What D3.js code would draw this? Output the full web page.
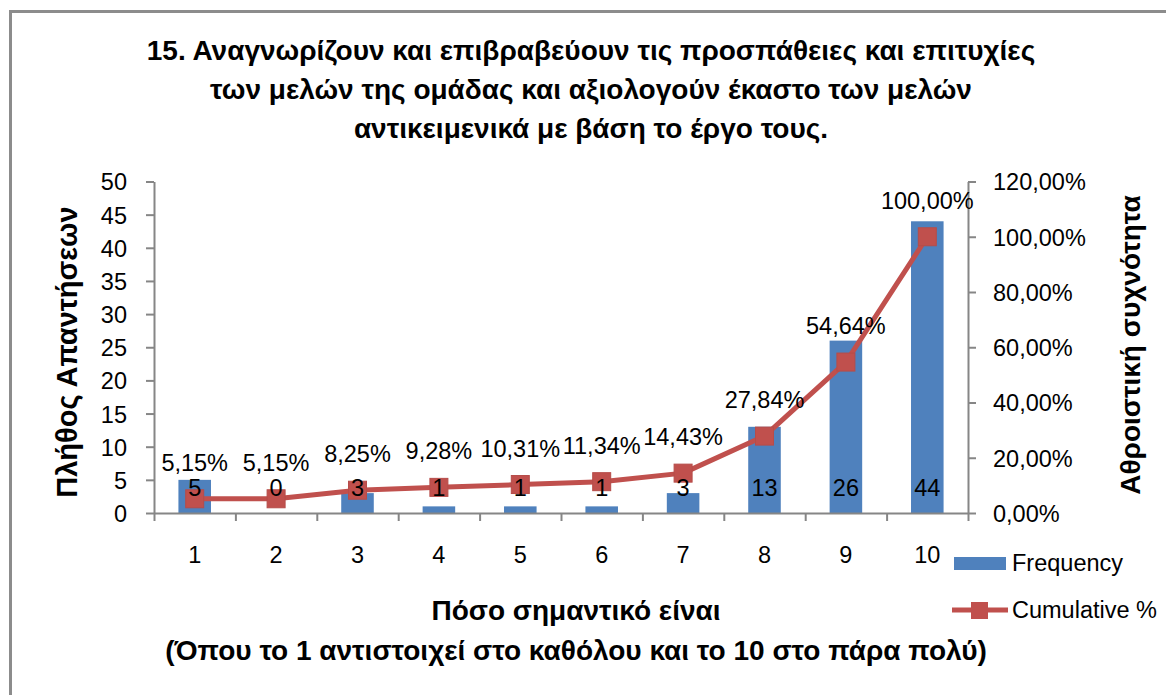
<!DOCTYPE html>
<html>
<head>
<meta charset="utf-8">
<script src="https://cdn.jsdelivr.net/npm/d3@7"></script>
<style>
  body { margin: 0; background: #fff; }
  text { font-family: "Liberation Sans", Arial, sans-serif; fill: #000; }
</style>
</head>
<body>
<svg id="chart"></svg>
<script>
// data
const categories = ['1', '2', '3', '4', '5', '6', '7', '8', '9', '10'];
const frequency = [5, 0, 3, 1, 1, 1, 3, 13, 26, 44];
const cumulative = [5.15, 5.15, 8.25, 9.28, 10.31, 11.34, 14.43, 27.84, 54.64, 100.00];
const leftTicks = [0, 5, 10, 15, 20, 25, 30, 35, 40, 45, 50];
const rightTicks = [0, 20, 40, 60, 80, 100, 120];
const titleLines = ['15. Αναγνωρίζουν και επιβραβεύουν τις προσπάθειες και επιτυχίες',
                    'των μελών της ομάδας και αξιολογούν έκαστο των μελών',
                    'αντικειμενικά με βάση το έργο τους.'];
const xTitleLines = ['Πόσο σημαντικό είναι', '(Όπου το 1 αντιστοιχεί στο καθόλου και το 10 στο πάρα πολύ)'];

const WIDTH = 1166, HEIGHT = 695;
const PLOT = { left: 154, right: 968, top: 181.5, bottom: 513 };
const BLUE = '#4F81BD', RED = '#C0504D', GRAY = '#868686';
const FS = '23.5px', TFS = '28px';

const fmt = v => v.toFixed(2).replace('.', ',') + '%';

const svg = d3.select('#chart')
    .attr('width', WIDTH)
    .attr('height', HEIGHT);

// outer frame (only top/left visible in the picture)
svg.append('rect')
    .attr('x', 10.5).attr('y', 11.5)
    .attr('width', WIDTH + 20).attr('height', HEIGHT + 20)
    .attr('fill', 'none')
    .attr('stroke', '#8C8C8C')
    .attr('stroke-width', 3);

const xScale = d3.scaleBand()
    .domain(categories)
    .range([PLOT.left, PLOT.right])
    .paddingInner(0.6)
    .paddingOuter(0.3);
const xEdge = d3.scaleLinear().domain([0, categories.length]).range([PLOT.left, PLOT.right]);
const yScale = d3.scaleLinear().domain([0, 50]).range([PLOT.bottom, PLOT.top]);
const yPct = d3.scaleLinear().domain([0, 120]).range([PLOT.bottom, PLOT.top]);
const xMid = c => xScale(c) + xScale.bandwidth() / 2;

// title
svg.append('g')
    .selectAll('text')
    .data(titleLines)
    .join('text')
    .attr('x', 591)
    .attr('y', (d, i) => 60 + i * 39)
    .attr('text-anchor', 'middle')
    .attr('font-size', TFS)
    .attr('font-weight', 'bold')
    .text(d => d);

// bars
svg.append('g')
    .selectAll('rect')
    .data(frequency)
    .join('rect')
    .attr('x', (d, i) => xScale(categories[i]))
    .attr('y', d => yScale(d))
    .attr('width', xScale.bandwidth())
    .attr('height', d => yScale(0) - yScale(d))
    .attr('fill', BLUE);

// axes
const styleAxis = g => {
    g.select('.domain').attr('stroke', GRAY).attr('stroke-width', 2);
    g.selectAll('.tick line').attr('stroke', GRAY).attr('stroke-width', 2);
    g.selectAll('.tick text').attr('font-size', FS).attr('font-family', '"Liberation Sans", Arial, sans-serif').attr('fill', '#000');
};

svg.append('g')
    .attr('transform', `translate(${PLOT.left},0)`)
    .call(d3.axisLeft(yScale).tickValues(leftTicks).tickSize(8).tickPadding(19).tickSizeOuter(0))
    .call(styleAxis)
    .call(g => g.selectAll('.tick text').attr('dy', '0.36em'));

svg.append('g')
    .attr('transform', `translate(${PLOT.right},0)`)
    .call(d3.axisRight(yPct).tickValues(rightTicks).tickSize(8).tickPadding(17).tickSizeOuter(0).tickFormat(fmt))
    .call(styleAxis)
    .call(g => g.selectAll('.tick text').attr('dy', '0.36em'));

// category boundaries ticks
svg.append('g')
    .attr('transform', `translate(0,${PLOT.bottom})`)
    .call(d3.axisBottom(xEdge).ticks(10).tickSize(8).tickFormat('').tickSizeOuter(0))
    .call(styleAxis);

// category labels
svg.append('g')
    .attr('transform', `translate(0,${PLOT.bottom})`)
    .call(d3.axisBottom(xScale).tickSize(0).tickPadding(33))
    .call(styleAxis)
    .call(g => g.select('.domain').remove());

// cumulative line
const line = d3.line()
    .x((d, i) => xMid(categories[i]))
    .y(d => yPct(d));

svg.append('path')
    .datum(cumulative)
    .attr('d', line)
    .attr('fill', 'none')
    .attr('stroke', RED)
    .attr('stroke-width', 5)
    .attr('stroke-linejoin', 'round');

const MK = 18;
svg.append('g')
    .selectAll('rect')
    .data(cumulative)
    .join('rect')
    .attr('x', (d, i) => xMid(categories[i]) - MK / 2)
    .attr('y', d => yPct(d) - MK / 2)
    .attr('width', MK)
    .attr('height', MK)
    .attr('fill', RED)
    .attr('stroke', '#B64C49')
    .attr('stroke-width', 1);

// percent labels above points
svg.append('g')
    .selectAll('text')
    .data(cumulative)
    .join('text')
    .attr('x', (d, i) => xMid(categories[i]))
    .attr('y', d => yPct(d) - 28)
    .attr('text-anchor', 'middle')
    .attr('font-size', FS)
    .text(d => fmt(d));

// count labels at bar base
svg.append('g')
    .selectAll('text')
    .data(frequency)
    .join('text')
    .attr('x', (d, i) => xMid(categories[i]))
    .attr('y', yScale(0) - 17)
    .attr('text-anchor', 'middle')
    .attr('font-size', FS)
    .text(d => d);

// axis titles
svg.append('text')
    .attr('transform', `translate(77,352) rotate(-90)`)
    .attr('text-anchor', 'middle')
    .attr('font-size', '29px')
    .attr('font-weight', 'bold')
    .text('Πλήθος Απαντήσεων');

svg.append('text')
    .attr('transform', `translate(1140,345) rotate(-90)`)
    .attr('text-anchor', 'middle')
    .attr('font-size', TFS)
    .attr('font-weight', 'bold')
    .text('Αθροιστική συχνότητα');

svg.append('g')
    .selectAll('text')
    .data(xTitleLines)
    .join('text')
    .attr('x', 576)
    .attr('y', (d, i) => 620 + i * 40)
    .attr('text-anchor', 'middle')
    .attr('font-size', TFS)
    .attr('font-weight', 'bold')
    .text(d => d);

// legend
const legend = svg.append('g');
legend.append('rect')
    .attr('x', 954).attr('y', 557)
    .attr('width', 52).attr('height', 13)
    .attr('fill', BLUE);
legend.append('text')
    .attr('x', 1012).attr('y', 571)
    .attr('font-size', FS)
    .text('Frequency');
legend.append('line')
    .attr('x1', 952).attr('x2', 1008)
    .attr('y1', 610).attr('y2', 610)
    .attr('stroke', RED).attr('stroke-width', 5);
legend.append('rect')
    .attr('x', 971).attr('y', 602)
    .attr('width', 17).attr('height', 17)
    .attr('fill', RED);
legend.append('text')
    .attr('x', 1012).attr('y', 618)
    .attr('font-size', FS)
    .text('Cumulative %');
</script>
</body>
</html>
